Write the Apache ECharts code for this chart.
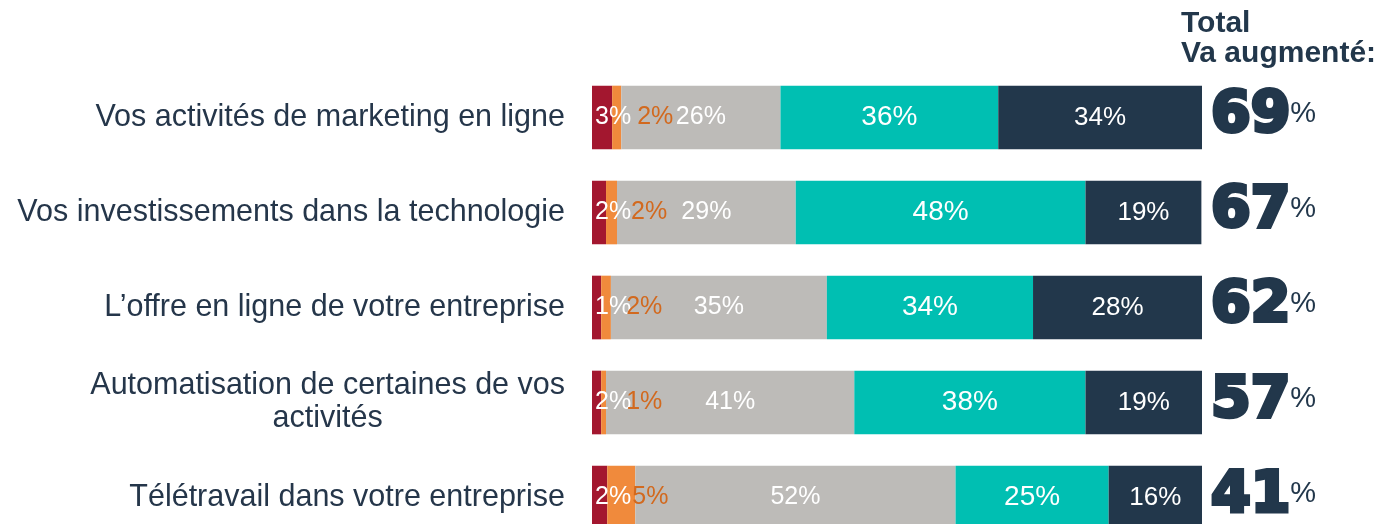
<!DOCTYPE html>
<html>
<head>
<meta charset="utf-8">
<script src="https://cdn.jsdelivr.net/npm/echarts@6/dist/echarts.min.js"></script>
<style>
  html, body { margin: 0; padding: 0; background: #fff; }
  #chart { width: 1390px; height: 524px; }
</style>
</head>
<body>
<div id="chart"></div>
<script>
// catégories (de haut en bas)
var categories = [
    'Vos activités de marketing en ligne',
    'Vos investissements dans la technologie',
    'L\u2019offre en ligne de votre entreprise',
    'Automatisation de certaines de vos\nactivités',
    'Télétravail dans votre entreprise'
];
// largeur des segments (%)
var redVals    = [3.3, 2.3, 1.5, 1.5, 2.5];
var orangeVals = [1.5, 1.8, 1.6, 0.8, 4.6];
var grayVals   = [26.1, 29.3, 35.4, 40.7, 52.5];
var tealVals   = [35.7, 47.5, 33.8, 37.9, 25.1];
var navyVals   = [33.4, 19.0, 27.7, 19.2, 15.4];
// étiquettes affichées
var redLabels    = [3, 2, 1, 2, 2];
var orangeLabels = [2, 2, 2, 1, 5];
var grayLabels   = [26, 29, 35, 41, 52];
var tealLabels   = [36, 48, 34, 38, 25];
var navyLabels   = [34, 19, 28, 19, 16];
// total "Va augmenté"
var totals = [69, 67, 62, 57, 41];

var NAVY = '#22374b';
var TEXT = '#25364a';

function lbl(arr) {
    return function (p) { return arr[p.dataIndex] + '%'; };
}

var chart = echarts.init(document.getElementById('chart'));

var option = {
    animation: false,
    title: {
        text: 'Total\nVa augmenté:',
        left: 1181,
        top: 9,
        padding: 0,
        textStyle: {
            fontFamily: 'Liberation Sans',
            fontSize: 30,
            fontWeight: 'bold',
            lineHeight: 30,
            color: NAVY
        }
    },
    grid: { left: 592, right: 188, top: 70, height: 475, containLabel: false, outerBoundsMode: 'none' },
    xAxis: { type: 'value', min: 0, max: 100, show: false },
    yAxis: [{
        type: 'category',
        data: categories,
        inverse: true,
        axisLine: { show: false },
        axisTick: { show: false },
        axisLabel: {
            margin: 27,
            formatter: function (v) {
                return v.split('\n').map(function (s) { return '{c|' + s + '}'; }).join('\n');
            },
            rich: {
                c: {
                    fontFamily: 'Liberation Sans',
                    fontSize: 30.5,
                    color: TEXT,
                    align: 'center',
                    lineHeight: 33
                }
            }
        }
    }, {
        type: 'category',
        data: totals,
        inverse: true,
        position: 'right',
        axisLine: { show: false },
        axisTick: { show: false },
        axisLabel: {
            margin: 9,
            align: 'left',
            formatter: function (v) { return '{n|' + v + '}{p|%}'; },
            rich: {
                n: {
                    fontFamily: 'DejaVu Sans',
                    fontSize: 57,
                    fontWeight: 'bold',
                    color: NAVY,
                    textBorderColor: NAVY,
                    textBorderWidth: 4,
                    lineHeight: 60
                },
                p: {
                    fontFamily: 'Liberation Sans',
                    fontSize: 29,
                    color: NAVY,
                    verticalAlign: 'top',
                    padding: [12, 0, 0, 0]
                }
            }
        }
    }],
    series: [{
        name: 'red', type: 'bar', stack: 't', data: redVals, barCategoryGap: '33%',
        itemStyle: { color: '#a3172f' },
        label: { show: true, position: 'insideLeft', distance: 3, color: '#fff',
            fontFamily: 'Liberation Sans', fontSize: 25, formatter: lbl(redLabels) }
    }, {
        name: 'orange', type: 'bar', stack: 't', data: orangeVals,
        itemStyle: { color: '#f08a3c' },
        label: { show: true, position: [25, '50%'], verticalAlign: 'middle', align: 'left',
            color: '#d2691e', fontFamily: 'Liberation Sans', fontSize: 25, formatter: lbl(orangeLabels) }
    }, {
        name: 'gray', type: 'bar', stack: 't', data: grayVals,
        itemStyle: { color: '#bdbbb8' },
        label: { show: true, position: 'inside', color: '#fff',
            fontFamily: 'Liberation Sans', fontSize: 25, formatter: lbl(grayLabels) }
    }, {
        name: 'teal', type: 'bar', stack: 't', data: tealVals,
        itemStyle: { color: '#00bfb2' },
        label: { show: true, position: 'inside', color: '#fff',
            fontFamily: 'Liberation Sans', fontSize: 28, formatter: lbl(tealLabels) }
    }, {
        name: 'navy', type: 'bar', stack: 't', data: navyVals,
        itemStyle: { color: NAVY },
        label: { show: true, position: 'inside', color: '#fff',
            fontFamily: 'Liberation Sans', fontSize: 26, formatter: lbl(navyLabels) }
    }]
};

chart.setOption(option);
</script>
</body>
</html>
